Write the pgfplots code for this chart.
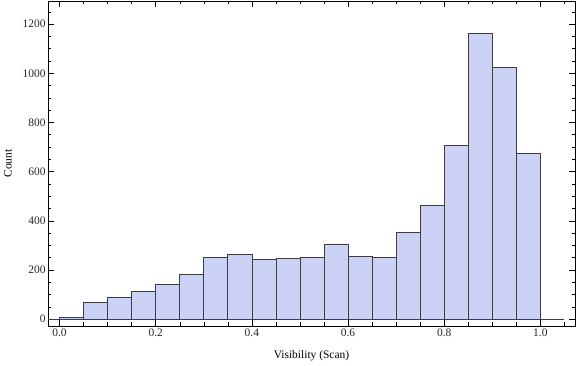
\documentclass[border=0pt]{standalone}
\usepackage{fontspec}
\setmainfont{Liberation Serif}
\usepackage{pgfplots}
\pgfplotsset{compat=1.18}
\definecolor{barfill}{RGB}{204,210,245}
\definecolor{baredge}{RGB}{60,60,70}
\begin{document}
\begin{tikzpicture}
\begin{axis}[
  scale only axis, width=527bp, height=325bp,
  xmin=-0.024, xmax=1.072, ymin=-28, ymax=1294,
  xtick={0,0.2,0.4,0.6,0.8,1.0},
  xticklabels={0.0,0.2,0.4,0.6,0.8,1.0},
  minor xtick={0.05,0.1,0.15,0.25,0.3,0.35,0.45,0.5,0.55,0.65,0.7,0.75,0.85,0.9,0.95,1.05},
  ytick={0,200,400,600,800,1000,1200},
  minor ytick={50,100,150,250,300,350,450,500,550,650,700,750,850,900,950,1050,1100,1150,1250},
  tick align=inside, major tick length=6bp, minor tick length=3.5bp,
  tick style={black, line width=0.5pt},
  axis line style={black, line width=0.6pt},
  /pgf/number format/assume math mode=true,
  scaled y ticks=false,
  yticklabel style={/pgf/number format/1000 sep={}, xshift=1bp},
  xticklabel style={yshift=1bp},
  tick label style={font=\fontsize{11.5}{13}\selectfont, text=black!85},
  label style={font=\fontsize{11.5}{13}\selectfont},
  xlabel={Visibility (Scan)}, ylabel={Count},
  x label style={at={(axis description cs:0.5,-0.092)}, anchor=center},
  y label style={at={(axis description cs:-0.076,0.5)}, anchor=center, rotate=0},
]
\addplot[ybar interval, fill=barfill, draw=baredge, line width=0.7pt] coordinates {
(0.00,8) (0.05,68) (0.10,90) (0.15,113) (0.20,141) (0.25,182)
(0.30,251) (0.35,263) (0.40,243) (0.45,247) (0.50,251) (0.55,306)
(0.60,255) (0.65,251) (0.70,353) (0.75,463) (0.80,707) (0.85,1163)
(0.90,1024) (0.95,674) (1.00,0)
};
\addplot[draw=baredge, line width=0.7pt] coordinates {(-0.024,0) (1.05,0)};
\end{axis}
\pgfresetboundingbox
\path (-48bp,-40bp) rectangle (528bp,326bp);
\end{tikzpicture}
\end{document}
